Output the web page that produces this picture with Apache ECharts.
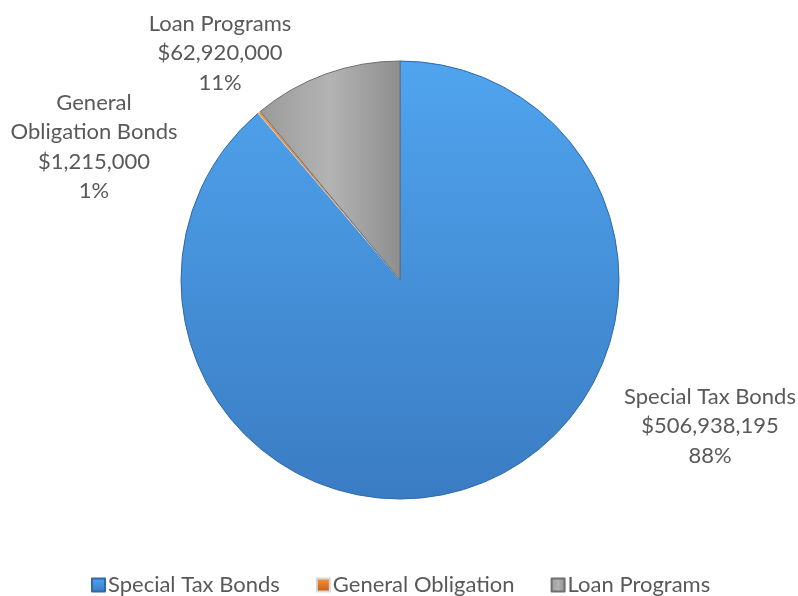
<!DOCTYPE html>
<html>
<head>
<meta charset="utf-8">
<title>Bond Funding Sources</title>
<script src="https://cdn.jsdelivr.net/npm/echarts@6/dist/echarts.min.js"></script>
<style>
  html, body { margin: 0; padding: 0; background: #ffffff; }
  #chart { width: 798px; height: 596px; }
</style>
</head>
<body>
<div id="chart"></div>
<script>
// Funding categories as listed in the legend
const categories = ['Special Tax Bonds', 'General Obligation', 'Loan Programs'];
// Slice captions (first line(s) of each data label)
const sliceNames = ['Special Tax Bonds', 'General\nObligation Bonds', 'Loan Programs'];
// Dollar amounts per category
const amounts = [506938195, 1215000, 62920000];
// Percent captions as printed on the labels
const percentLabels = ['88%', '1%', '11%'];

const FONT = 'Lato, "Open Sans", sans-serif';
const TEXT = '#595959';

const fills = [
  { type: 'linear', x: 0, y: 0, x2: 0, y2: 1,
    colorStops: [{ offset: 0, color: '#50a4ee' }, { offset: 1, color: '#3a7cc3' }] },
  { type: 'linear', x: 0, y: 0, x2: 0, y2: 1,
    colorStops: [{ offset: 0, color: '#f79646' }, { offset: 1, color: '#c55a11' }] },
  { type: 'linear', x: 0, y: 0, x2: 1, y2: 0,
    colorStops: [{ offset: 0, color: '#9a9a9a' }, { offset: 0.5, color: '#b3b3b3' }, { offset: 1, color: '#8e8e8e' }] }
];
const borders = ['#2f69a8', '#d9d9d9', '#6f6f6f'];

// Where each label block sits, centred on these points
const labelSpots = [
  { x: 710, y: 426 },
  { x: 94, y: 147 },
  { x: 220, y: 53 }
];

const fmtMoney = v => '$' + v.toLocaleString('en-US');

const chart = echarts.init(document.getElementById('chart'), null, { renderer: 'canvas' });

chart.setOption({
  backgroundColor: '#ffffff',
  animation: false,
  legend: {
    data: categories,
    top: 569,
    left: 86,
    itemWidth: 13,
    itemHeight: 13,
    itemGap: 36,
    icon: 'rect',
    textStyle: { fontFamily: FONT, fontSize: 22, color: TEXT, padding: [0, 0, 0, -2] }
  },
  series: [{
    type: 'pie',
    center: [400, 280],
    radius: 219,
    startAngle: 90,
    clockwise: true,
    avoidLabelOverlap: false,
    data: categories.map((name, i) => ({
      name: name,
      value: amounts[i],
      itemStyle: { color: fills[i], borderColor: borders[i], borderWidth: 1 }
    })),
    label: {
      show: true,
      position: 'outside',
      fontFamily: FONT,
      fontSize: 22,
      color: TEXT,
      lineHeight: 29.5,
      align: 'center',
      formatter: p => sliceNames[p.dataIndex] + '\n' + fmtMoney(p.value) + '\n' + percentLabels[p.dataIndex]
    },
    labelLine: { show: false },
    labelLayout: p => ({
      x: labelSpots[p.dataIndex].x,
      y: labelSpots[p.dataIndex].y,
      align: 'center',
      verticalAlign: 'middle'
    }),
    emphasis: { disabled: true }
  }]
});
</script>
</body>
</html>
